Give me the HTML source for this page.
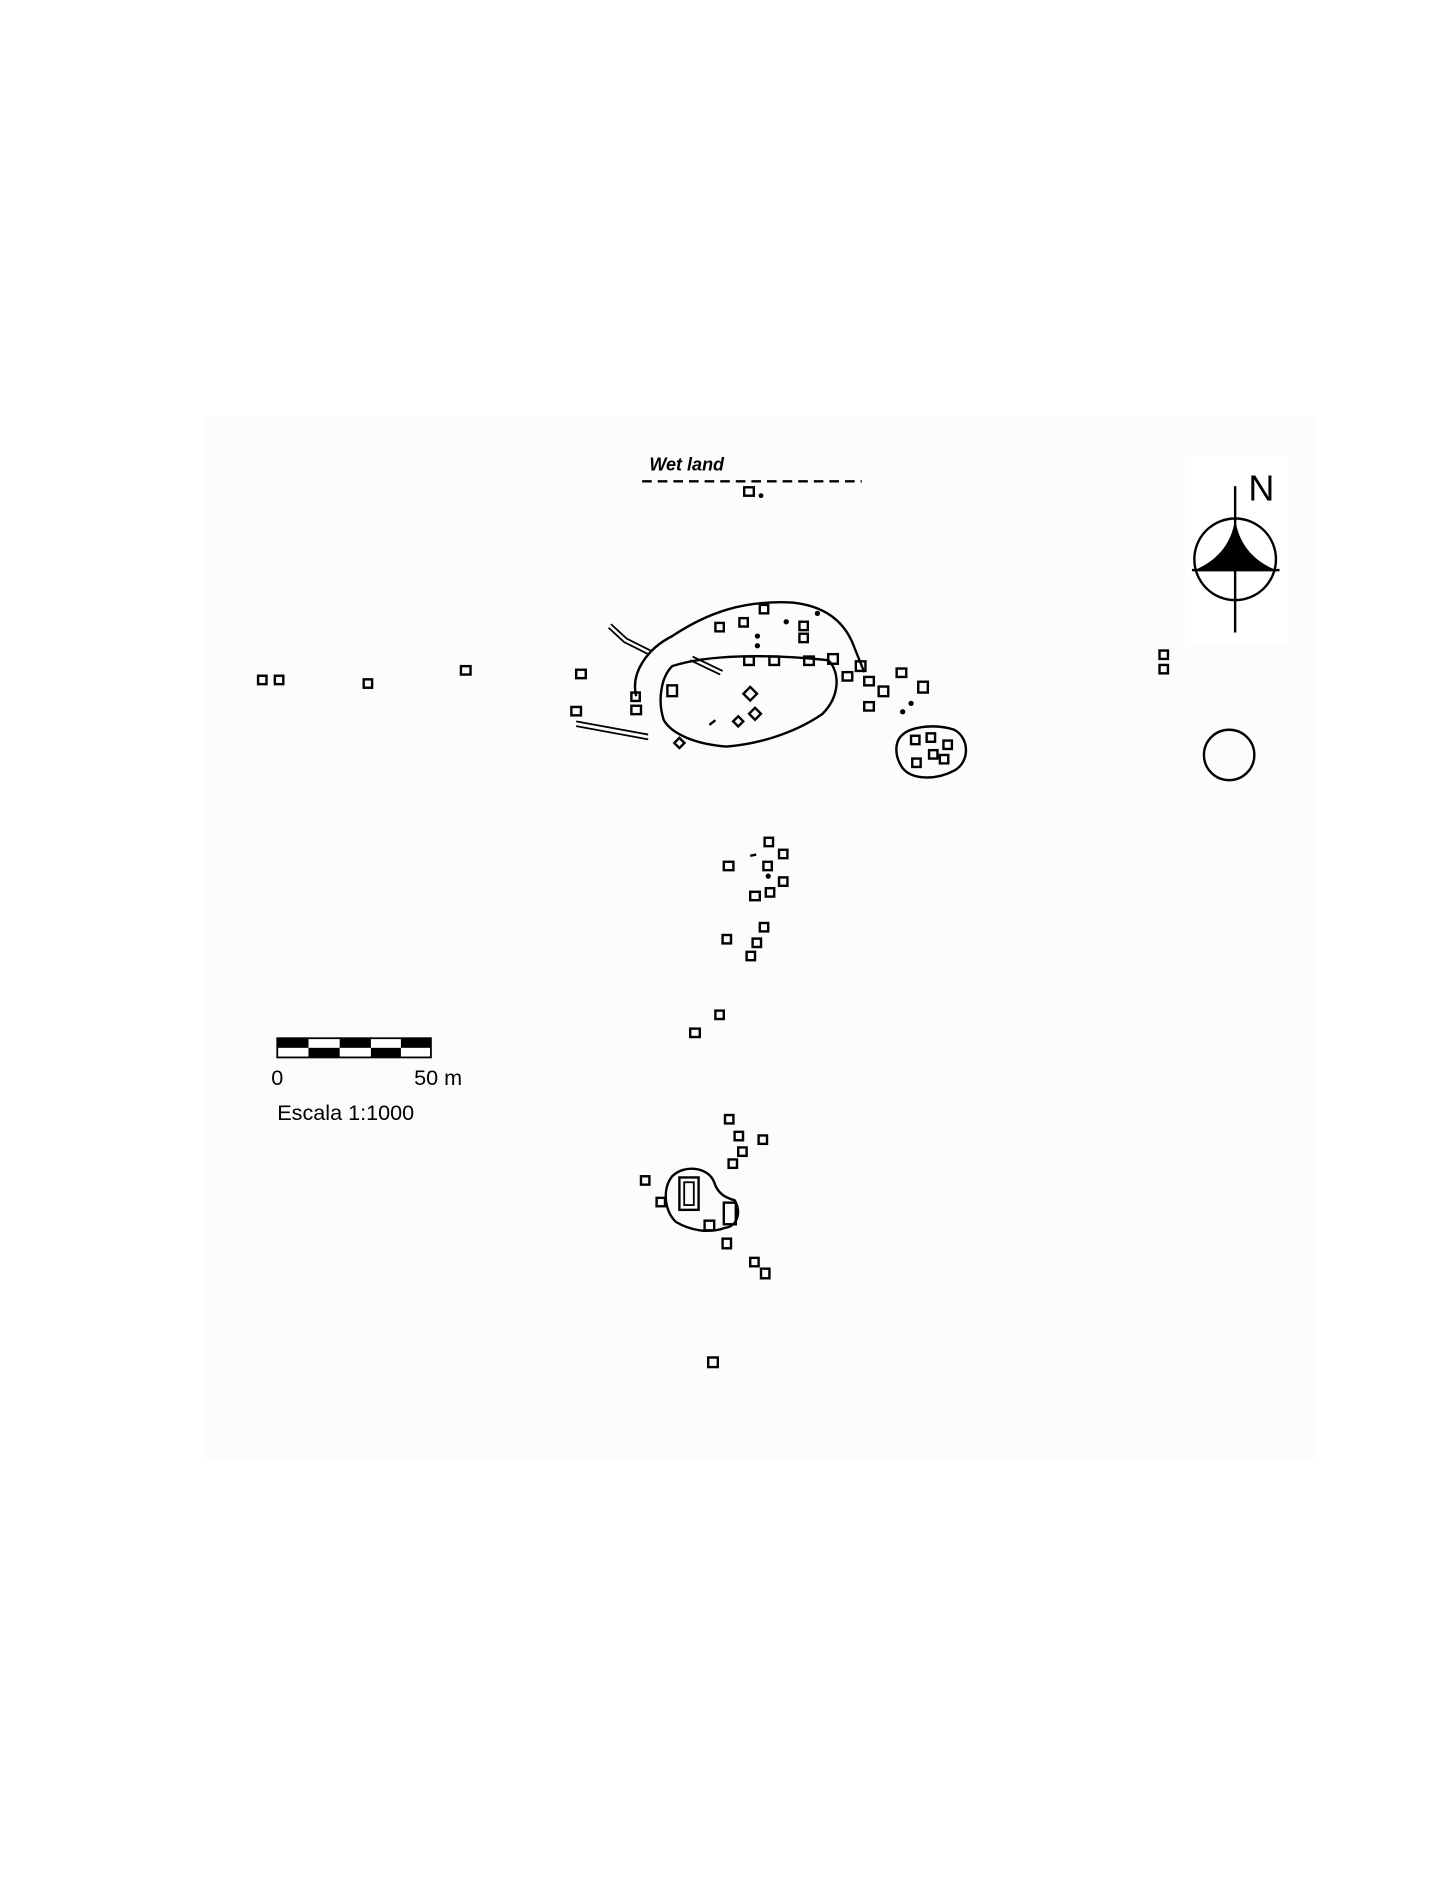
<!DOCTYPE html>
<html><head><meta charset="utf-8"><style>
html,body{margin:0;padding:0;background:#fff;width:1432px;height:1882px;overflow:hidden}
svg{display:block}
</style></head><body>
<svg width="1432" height="1882" viewBox="0 0 1193 1568" preserveAspectRatio="none" xmlns="http://www.w3.org/2000/svg">
<rect x="0" y="0" width="1200" height="1577" fill="#fff"/>
<rect x="170" y="347" width="927" height="868" fill="#fcfcfc"/>
<g fill="none" stroke="#000" stroke-width="2">
<line x1="535" y1="401" x2="718" y2="401" stroke-dasharray="8,5"/>
<path d="M530 580 C525 560 540 540 560 530 C590 510 620 500 660 502 C690 505 705 520 712 540 C716 550 718 555 720 560"/>
<path d="M560 555 C590 545 640 545 690 550 C700 560 700 580 685 595 C660 612 630 620 605 622 C580 620 560 612 553 600 C548 585 550 565 560 555 Z"/>
<path d="M507 523 L520 535 L540 545" stroke-width="1.5"/>
<path d="M509 520 L522 532 L542 542" stroke-width="1.5"/>
<path d="M575 550 L600 562" stroke-width="1.5"/>
<path d="M577 547 L602 559" stroke-width="1.5"/>
<path d="M480 601 L540 612" stroke-width="1.5"/>
<path d="M480 605 L540 616" stroke-width="1.5"/>
<line x1="591" y1="604" x2="596" y2="600"/>
<line x1="625" y1="713" x2="630" y2="712"/>
<path d="M752 612 C760 605 780 603 795 608 C808 615 808 635 795 642 C780 650 760 650 752 640 C745 630 745 618 752 612 Z"/>
<circle cx="1024" cy="629" r="21"/>
<path d="M560 980 C570 970 590 972 595 985 C598 995 605 998 612 1000 C618 1010 614 1022 604 1023 C590 1028 575 1025 563 1018 C553 1008 552 990 560 980 Z"/>
<rect x="566" y="981" width="16" height="27"/><rect x="570" y="985" width="8" height="19" stroke-width="1.5"/>
<rect x="603" y="1002" width="10" height="18"/>
</g>
<g fill="none" stroke="#000" stroke-width="2">
<rect x="620" y="406" width="8" height="7"/>
<rect x="596" y="519" width="7" height="7"/><rect x="616" y="515" width="7" height="7"/><rect x="633" y="504" width="7" height="7"/>
<rect x="666" y="518" width="7" height="7"/><rect x="666" y="528" width="7" height="7"/>
<rect x="620" y="547" width="8" height="7"/><rect x="641" y="547" width="8" height="7"/><rect x="670" y="547" width="8" height="7"/><rect x="690" y="545" width="8" height="8"/>
<rect x="556" y="571" width="8" height="9"/>
<rect x="526" y="577" width="7" height="7"/><rect x="526" y="588" width="8" height="7"/>
<rect x="480" y="558" width="8" height="7"/><rect x="476" y="589" width="8" height="7"/>
<rect x="215" y="563" width="7" height="7"/><rect x="229" y="563" width="7" height="7"/>
<rect x="303" y="566" width="7" height="7"/><rect x="384" y="555" width="8" height="7"/>
<rect x="702" y="560" width="8" height="7"/><rect x="713" y="551" width="8" height="8"/>
<rect x="720" y="564" width="8" height="7"/><rect x="732" y="572" width="8" height="8"/>
<rect x="720" y="585" width="8" height="7"/><rect x="747" y="557" width="8" height="7"/><rect x="765" y="568" width="8" height="9"/>
<rect x="966" y="542" width="7" height="7"/><rect x="966" y="554" width="7" height="7"/>
<rect x="759" y="613" width="7" height="7"/><rect x="772" y="611" width="7" height="7"/><rect x="786" y="617" width="7" height="7"/>
<rect x="774" y="625" width="7" height="7"/><rect x="783" y="629" width="7" height="7"/><rect x="760" y="632" width="7" height="7"/>
<rect x="621" y="574" width="8" height="8" transform="rotate(45 625 578)"/>
<rect x="626" y="591" width="7" height="7" transform="rotate(45 629 594)"/>
<rect x="612" y="598" width="6" height="6" transform="rotate(45 615 601)"/>
<rect x="563" y="616" width="6" height="6" transform="rotate(45 566 619)"/>
<rect x="637" y="698" width="7" height="7"/><rect x="649" y="708" width="7" height="7"/><rect x="603" y="718" width="8" height="7"/>
<rect x="636" y="718" width="7" height="7"/><rect x="649" y="731" width="7" height="7"/><rect x="625" y="743" width="8" height="7"/><rect x="638" y="740" width="7" height="7"/>
<rect x="633" y="769" width="7" height="7"/><rect x="602" y="779" width="7" height="7"/><rect x="627" y="782" width="7" height="7"/><rect x="622" y="793" width="7" height="7"/>
<rect x="596" y="842" width="7" height="7"/><rect x="575" y="857" width="8" height="7"/>
<rect x="604" y="929" width="7" height="7"/><rect x="612" y="943" width="7" height="7"/><rect x="632" y="946" width="7" height="7"/>
<rect x="615" y="956" width="7" height="7"/><rect x="607" y="966" width="7" height="7"/>
<rect x="534" y="980" width="7" height="7"/><rect x="547" y="998" width="7" height="7"/><rect x="587" y="1017" width="8" height="8"/>
<rect x="602" y="1032" width="7" height="8"/><rect x="625" y="1048" width="7" height="7"/><rect x="634" y="1057" width="7" height="8"/>
<rect x="590" y="1131" width="8" height="8"/>
</g>
<g fill="#000">
<circle cx="634" cy="413" r="2"/>
<circle cx="681" cy="511" r="2.2"/><circle cx="655" cy="518" r="2.2"/><circle cx="631" cy="530" r="2.2"/><circle cx="631" cy="538" r="2.2"/>
<circle cx="759" cy="586" r="2.2"/><circle cx="752" cy="593" r="2.2"/><circle cx="640" cy="730" r="2.2"/>
</g>
<text x="541" y="392" font-family="Liberation Sans, sans-serif" font-size="15" font-weight="bold" font-style="italic">Wet land</text>
<rect x="987" y="380" width="86" height="155" fill="#fff"/>
<g stroke="#000" stroke-width="2" fill="none">
<line x1="1029" y1="405" x2="1029" y2="527"/>
<line x1="993" y1="475" x2="1066" y2="475"/>
<circle cx="1029" cy="466" r="34"/>
</g>
<path d="M1029 432 C1026 455 1012 468 995 475 L1063 475 C1046 468 1032 455 1029 432 Z" fill="#000"/>
<text x="1040" y="417" font-family="Liberation Sans, sans-serif" font-size="30">N</text>
<rect x="231" y="865" width="128" height="16" fill="#fff" stroke="#000" stroke-width="1.5"/>
<g fill="#000">
<rect x="231" y="865" width="26" height="8"/><rect x="283" y="865" width="26" height="8"/><rect x="334" y="865" width="25" height="8"/>
<rect x="257" y="873" width="26" height="8"/><rect x="309" y="873" width="25" height="8"/>
</g>
<text x="226" y="904" font-family="Liberation Sans, sans-serif" font-size="18">0</text>
<text x="345" y="904" font-family="Liberation Sans, sans-serif" font-size="18">50 m</text>
<text x="231" y="933" font-family="Liberation Sans, sans-serif" font-size="18">Escala 1:1000</text>
</svg>
</body></html>
